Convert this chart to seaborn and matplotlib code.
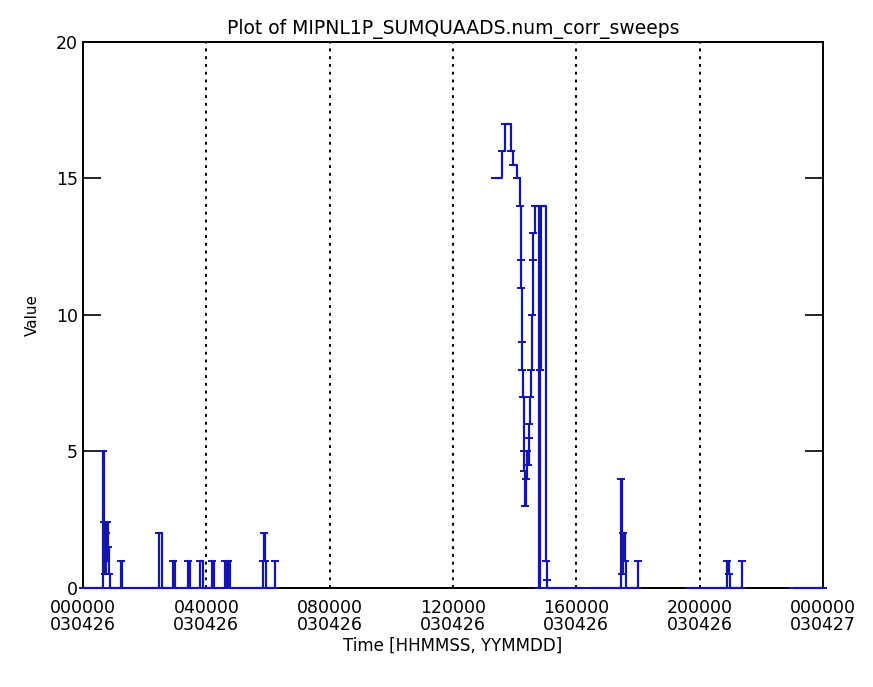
import numpy as np
import pandas as pd
import matplotlib
matplotlib.use("Agg")
import matplotlib.pyplot as plt
import seaborn as sns

# --------------------------------
# Data (time in hours of 030426, value = num_corr_sweeps)
# --------------------------------

seg1_t = [0.0, 0.60, 0.64, 0.67, 0.70, 0.73, 0.76, 0.79, 0.82, 0.85, 0.88,
          1.20, 1.23, 1.27, 2.45, 2.48, 2.55, 2.88, 2.92, 2.97, 3.38, 3.42,
          3.47, 3.74, 3.78, 3.88, 4.15, 4.19, 4.24, 4.55, 4.59, 4.66, 4.71,
          4.76, 5.80, 5.83, 5.86, 5.89, 5.93, 6.20, 6.23]
seg1_v = [0, 0, 5, 2.4, 0.5, 2, 1, 2.4, 1.5, 0.5, 0,
          0, 1, 0, 0, 2, 0, 0, 1, 0, 0, 1,
          0, 0, 1, 0, 0, 1, 0, 0, 1, 0, 1,
          0, 0, 1, 2, 1, 0, 0, 1]

seg2_t = [13.36, 13.58, 13.69, 13.87, 13.95, 14.07, 14.17, 14.19, 14.21,
          14.23, 14.25, 14.27, 14.29, 14.31, 14.33, 14.37, 14.40, 14.43,
          14.46, 14.48, 14.50, 14.52, 14.55, 14.58, 14.61, 14.66, 14.80,
          14.81, 14.84, 15.02, 15.04, 15.06, 16.20]
seg2_v = [15, 16, 17, 16, 15.5, 15, 14, 12, 11, 9, 8, 7, 5, 4.3, 3,
          4, 5, 4.5, 5.5, 6, 7, 8, 10, 12, 13, 14, 0,
          8, 14, 1, 0.3, 0, 0]

seg3_t = [16.45, 17.42, 17.45, 17.48, 17.53, 17.57, 17.60, 17.97, 18.00]
seg3_v = [0, 0, 4, 0.5, 2, 1, 0, 0, 1]

seg4_t = [19.70, 20.86, 20.90, 20.94, 20.98, 21.33, 21.36]
seg4_v = [0, 0, 1, 0.5, 0, 0, 1]

seg5_t = [23.02, 24.0]
seg5_v = [0, 0]

tick_hours = [0, 4, 8, 12, 16, 20, 24]
tick_labels = ["000000\n030426", "040000\n030426", "080000\n030426",
               "120000\n030426", "160000\n030426", "200000\n030426",
               "000000\n030427"]

# --------------------------------
# Build table
# --------------------------------

frames = []
for i, (t, v) in enumerate([(seg1_t, seg1_v), (seg2_t, seg2_v), (seg3_t, seg3_v),
                            (seg4_t, seg4_v), (seg5_t, seg5_v)]):
    frames.append(pd.DataFrame({"Time": t, "Value": v, "seg": i}))
df = pd.concat(frames, ignore_index=True)

# --------------------------------
# Plot
# --------------------------------

sns.set_theme(style="white")
plt.rcParams["font.family"] = ["DejaVu Sans"]
plt.rcParams["text.color"] = "black"
plt.rcParams["axes.labelcolor"] = "black"
plt.rcParams["xtick.color"] = "black"
plt.rcParams["ytick.color"] = "black"

fig = plt.figure(figsize=(8.73, 6.87), dpi=100)
ax = fig.add_axes([0.0951, 0.1441, 0.8476, 0.7948])

for h in tick_hours[1:-1]:
    ax.axvline(h, color="black", linestyle=(0, (1.5, 2.5)), linewidth=1.4, zorder=1)

sns.lineplot(data=df, x="Time", y="Value", units="seg", estimator=None,
             color="#1414b0", linewidth=1.6, drawstyle="steps-post",
             marker="_", markersize=6, markeredgewidth=1.4,
             markeredgecolor="#1414b0", sort=False, ax=ax, zorder=3,
             clip_on=False)

ax.set_xlim(0, 24)
ax.set_ylim(0, 20)
ax.set_xticks(tick_hours)
ax.set_xticklabels(tick_labels, fontsize=12.5, linespacing=0.95)
ax.set_yticks([0, 5, 10, 15, 20])
ax.set_yticklabels(["0", "5", "10", "15", "20"], fontsize=12.5)
ax.tick_params(axis="y", direction="in", length=13, width=1.2, right=True, left=True)
ax.tick_params(axis="x", direction="in", length=0, pad=8)

for s in ax.spines.values():
    s.set_color("black")
    s.set_linewidth(1.4)

ax.set_xlabel("Time [HHMMSS, YYMMDD]", fontsize=12, labelpad=2)
ax.set_ylabel("Value", fontsize=11, labelpad=12)
ax.set_title("Plot of MIPNL1P_SUMQUAADS.num_corr_sweeps", fontsize=13.5, pad=6)

fig.savefig("out.png", dpi=100)
